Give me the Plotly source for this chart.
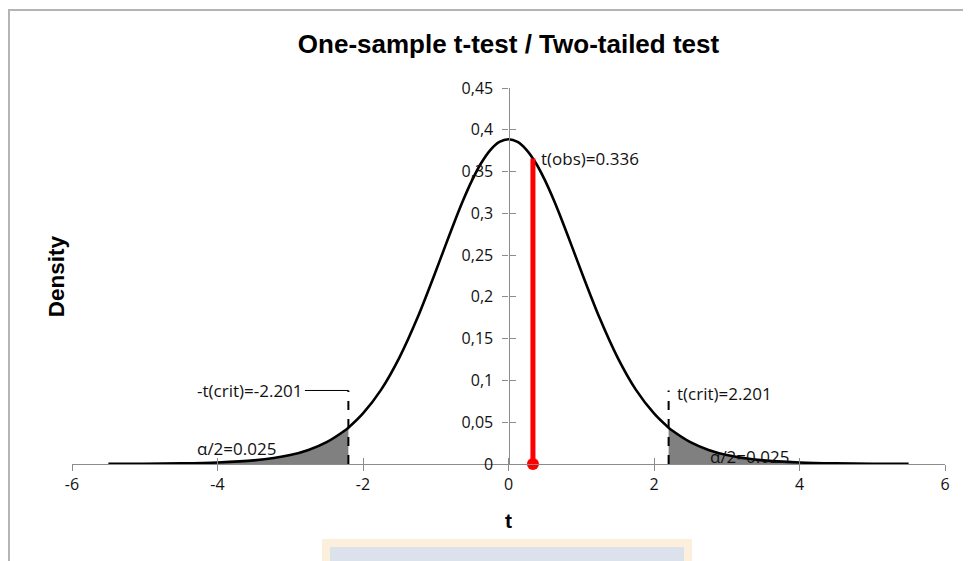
import plotly.graph_objects as go

# ---- data ----
t_grid = [-5.5, -5.0, -4.5, -4.0, -3.5, -3.0, -2.75, -2.5, -2.25, -2.201, -2.0, -1.75, -1.5, -1.25,
          -1.0, -0.875, -0.75, -0.625, -0.5, -0.375, -0.25, -0.125, 0.0, 0.125, 0.25, 0.375, 0.5,
          0.625, 0.75, 0.875, 1.0, 1.25, 1.5, 1.75, 2.0, 2.201, 2.25,
          2.5, 2.75, 3.0, 3.5, 4.0, 4.5, 5.0, 5.5]
density = [0.00014, 0.00032, 0.00074, 0.00178, 0.00436, 0.01076, 0.01683, 0.02614, 0.0401, 0.0435,
           0.0605, 0.0890, 0.1273, 0.1752,
           0.2306, 0.2596, 0.2882, 0.3153, 0.3397, 0.3602, 0.3757, 0.3854, 0.3887, 0.3854, 0.3757,
           0.3602, 0.3397, 0.3153, 0.2882, 0.2596, 0.2306, 0.1752, 0.1273, 0.0890, 0.0605, 0.0435,
           0.0401, 0.02614, 0.01683, 0.01076, 0.00436, 0.00178, 0.00074, 0.00032, 0.00014]
t_crit = 2.201
crit_line_top = 0.088
t_obs = 0.336
obs_density = 0.3656
x_ticks = [-6, -4, -2, 0, 2, 4, 6]
x_tick_labels = ["-6", "-4", "-2", "0", "2", "4", "6"]
alpha_label = "α/2=0.025"

TICK_FONT = dict(family="Open Sans, Arial", size=16, color="#111111")
ANN_FONT = dict(family="Open Sans, Arial", size=17, color="#111111")
AXIS_COLOR = "#8c8c8c"

left_x = [t for t in t_grid if t <= -t_crit]
left_y = [d for t, d in zip(t_grid, density) if t <= -t_crit]
right_x = [t for t in t_grid if t >= t_crit]
right_y = [d for t, d in zip(t_grid, density) if t >= t_crit]

fig = go.Figure()

# shaded tails
for xs, ys in ((left_x, left_y), (right_x, right_y)):
    fig.add_trace(go.Scatter(x=xs, y=ys, mode="lines", fill="tozeroy",
                             fillcolor="#808080", line=dict(width=0, color="#808080"),
                             showlegend=False, hoverinfo="skip"))

# density curve
fig.add_trace(go.Scatter(x=t_grid, y=density, mode="lines",
                         line=dict(color="black", width=2.6, shape="spline", smoothing=0.8),
                         showlegend=False))

# critical value dashed lines
for tc in (-t_crit, t_crit):
    fig.add_trace(go.Scatter(x=[tc, tc], y=[0, crit_line_top], mode="lines",
                             line=dict(color="black", width=2, dash="dash"),
                             showlegend=False))

# observed t
fig.add_trace(go.Scatter(x=[t_obs, t_obs], y=[0, obs_density], mode="lines",
                         line=dict(color="#ff0000", width=5), showlegend=False))
fig.add_trace(go.Scatter(x=[t_obs], y=[0], mode="markers", cliponaxis=False,
                         marker=dict(color="#ff0000", size=12), showlegend=False))

# invisible trace for overlay axes (crossing ticks)
fig.add_trace(go.Scatter(x=[0], y=[0], xaxis="x2", yaxis="y2", mode="markers",
                         marker=dict(opacity=0), showlegend=False, hoverinfo="skip"))

annotations = [
    dict(x=t_obs, y=obs_density, xref="x", yref="y", text="t(obs)=0.336", showarrow=False,
         xanchor="left", yanchor="middle", xshift=6, font=ANN_FONT),
    dict(x=-t_crit, y=crit_line_top, xref="x", yref="y", text="-t(crit)=-2.201",
         showarrow=True, arrowhead=0, arrowwidth=1, arrowcolor="black", ax=-98, ay=0,
         font=ANN_FONT),
    dict(x=t_crit, y=crit_line_top - 0.004, xref="x", yref="y", text="t(crit)=2.201",
         showarrow=False, xanchor="left", yanchor="middle", xshift=6, font=ANN_FONT),
    dict(x=-3.74, y=0.018, xref="x", yref="y", text=alpha_label, showarrow=False,
         xanchor="center", yanchor="middle", font=ANN_FONT),
    dict(x=3.31, y=0.0085, xref="x", yref="y", text=alpha_label, showarrow=False,
         xanchor="center", yanchor="middle", font=ANN_FONT),
    dict(x=-0.018, y=0.5, xref="paper", yref="paper", text="<b>Density</b>", showarrow=False,
         textangle=-90, xanchor="center", yanchor="middle",
         font=dict(family="Liberation Sans, Arial", size=22.5, color="black")),
    dict(x=0.5, y=-0.149, xref="paper", yref="paper", text="<b>t</b>", showarrow=False,
         xanchor="center", yanchor="middle",
         font=dict(family="Liberation Sans, Arial", size=21, color="black")),
]

shapes = [
    # chart border (left and top visible)
    dict(type="rect", xref="paper", yref="paper", x0=-0.0722, x1=2, y0=-2, y1=1.2075,
         line=dict(color="#b4b4b4", width=2), fillcolor="rgba(0,0,0,0)", layer="below"),
    # light box at bottom
    dict(type="rect", xref="paper", yref="paper", x0=0.2864, x1=0.7102, y0=-0.32, y1=-0.1995,
         line=dict(width=0), fillcolor="#fcf0dc", layer="below"),
    dict(type="rect", xref="paper", yref="paper", x0=0.2955, x1=0.701, y0=-0.32, y1=-0.2207,
         line=dict(width=0), fillcolor="#dbe2eb", layer="below"),
]

W, H = 963, 553
fig.update_layout(
    width=W, height=H,
    margin=dict(l=64, r=26, t=80, b=97),
    paper_bgcolor="white", plot_bgcolor="white",
    separators=",.",
    title=dict(text="<b>One-sample t-test / Two-tailed test</b>", x=0.5, xref="paper",
               xanchor="center", y=1 - 36 / H, yref="container", yanchor="middle",
               font=dict(family="Liberation Sans, Arial", size=26, color="black")),
    xaxis=dict(range=[-6, 6], tickvals=x_ticks, ticktext=x_tick_labels,
               showgrid=False, zeroline=False,
               showline=True, linecolor=AXIS_COLOR, linewidth=1.2,
               ticks="outside", ticklen=6, tickcolor=AXIS_COLOR, tickwidth=1.2,
               tickfont=TICK_FONT, ticklabelstandoff=0, anchor="y"),
    yaxis=dict(range=[0, 0.45], tick0=0, dtick=0.05, showgrid=False, zeroline=False,
               showline=True, linecolor=AXIS_COLOR, linewidth=1.2,
               ticks="outside", ticklen=6, tickcolor=AXIS_COLOR, tickwidth=1.2,
               tickfont=TICK_FONT, anchor="free", position=0.5, ticklabelstandoff=6),
    xaxis2=dict(range=[-6, 6], tickvals=x_ticks, overlaying="x", anchor="y2",
                showgrid=False, zeroline=False, showline=False, ticks="inside", ticklen=6,
                tickcolor=AXIS_COLOR, tickwidth=1.2, showticklabels=False),
    yaxis2=dict(range=[0, 0.45], tick0=0, dtick=0.05, overlaying="y", anchor="free",
                position=0.5, showgrid=False, zeroline=False, showline=False,
                ticks="inside", ticklen=6, tickcolor=AXIS_COLOR, tickwidth=1.2,
                showticklabels=False),
    annotations=annotations,
    shapes=shapes,
)

fig.write_html("out.html")
